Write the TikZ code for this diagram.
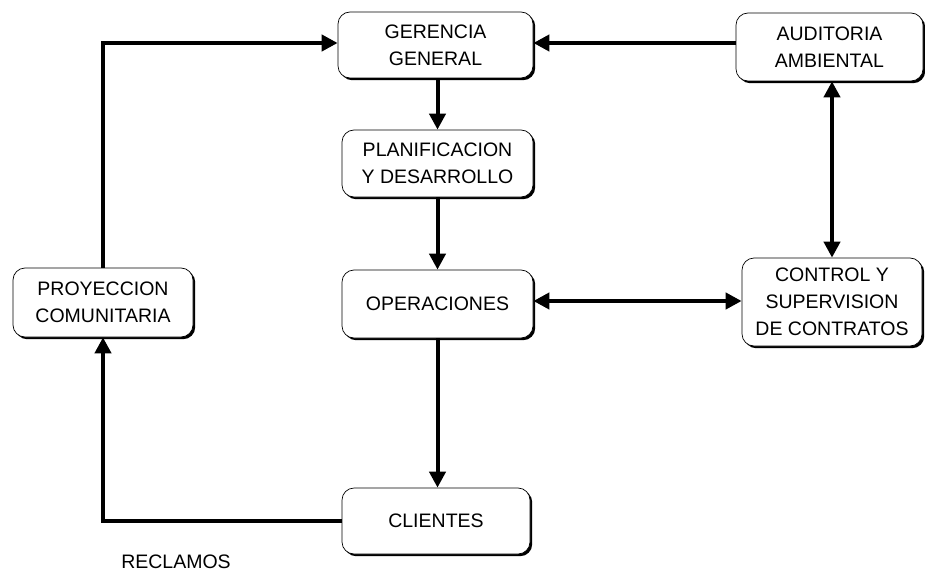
\documentclass[tikz,border=0pt]{standalone}
\usepackage{fontspec}
\setmainfont{Liberation Sans}
\usetikzlibrary{arrows.meta,shadows,positioning}
\begin{document}
\begin{tikzpicture}[x=1pt,y=-1pt,
  box/.style={draw=black, line width=0.7pt, rounded corners=12pt, fill=white,
    align=center, inner sep=0pt, font=\fontsize{19.5}{27}\selectfont,
    drop shadow={shadow xshift=2.2pt, shadow yshift=-2.2pt, fill=black, opacity=1}},
  conn/.style={line width=4pt, -{Triangle[length=16pt,width=16pt]}},
  conn2/.style={line width=4pt, {Triangle[length=16pt,width=16pt]}-{Triangle[length=16pt,width=16pt]}},
  wire/.style={line width=4pt, line join=miter},
  lbl/.style={font=\fontsize{19.5}{27}\selectfont, inner sep=0pt}
]
\useasboundingbox (0,0) rectangle (925,572);
\node[box, minimum width=195pt, minimum height=66pt] (g) at (435.5,45) {GERENCIA\\GENERAL};
\node[box, minimum width=191pt, minimum height=67pt] (p) at (437.5,163.5) {PLANIFICACION\\Y DESARROLLO};
\node[box, minimum width=191pt, minimum height=68pt] (o) at (437.5,304) {OPERACIONES};
\node[box, minimum width=187pt, minimum height=68pt] (a) at (829.5,47) {AUDITORIA\\AMBIENTAL};
\node[box, minimum width=180pt, minimum height=88pt] (c) at (832,302) {CONTROL Y\\SUPERVISION\\DE CONTRATOS};
\node[box, minimum width=180pt, minimum height=69pt] (pr) at (103,302.5) {PROYECCION\\COMUNITARIA};
\node[box, minimum width=188pt, minimum height=66pt] (cl) at (436,521) {CLIENTES};
\node[lbl] (rec) at (176,562) {RECLAMOS};

\coordinate (k1) at (103,43);
\coordinate (k2) at (103,521);

\draw[wire] (pr.north) -- (k1) -- ++(20,0);
\draw[conn] (k1) -- (k1 -| g.west);
\draw[conn] (a.west |- k1) -- (g.east |- k1);
\draw[conn] (g.south -| p.north) -- (p.north);
\draw[conn] (p.south) -- (o.north);
\draw[conn] (o.south) -- (cl.north -| o.south);
\draw[conn2] (o.east |- 0,301) -- (c.west |- 0,301);
\draw[conn2] (a.south -| c.north) -- (c.north);
\draw[wire] (cl.west) -- (k2) -- ++(0,-20);
\draw[conn] (k2) -- (pr.south);
\end{tikzpicture}
\end{document}
